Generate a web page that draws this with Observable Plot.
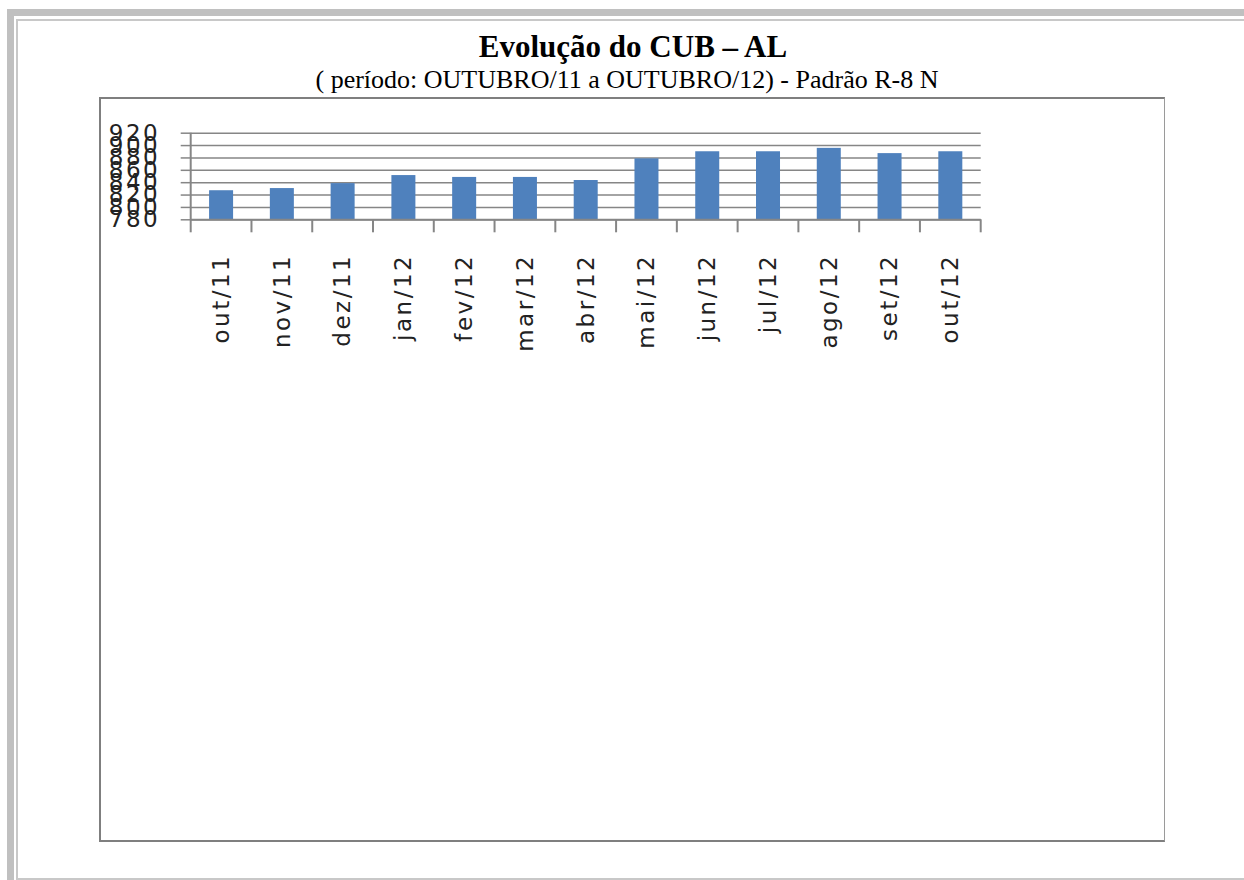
<!DOCTYPE html>
<html><head><meta charset="utf-8">
<script src="https://cdn.jsdelivr.net/npm/d3@7"></script>
<script src="https://cdn.jsdelivr.net/npm/@observablehq/plot@0.6"></script>
<style>
html,body{margin:0;padding:0;background:#fff;width:1244px;height:880px;overflow:hidden;position:relative}
.abs{position:absolute}
#title{position:absolute;left:99px;width:1068px;top:31px;text-align:center;font-family:"Liberation Serif","Times New Roman",serif;font-weight:bold;font-size:31px;line-height:31px;color:#000}
#subtitle{position:absolute;left:99px;width:1056px;top:67px;text-align:center;font-family:"Liberation Serif","Times New Roman",serif;font-size:26px;line-height:26px;color:#000}
#box{position:absolute;left:99px;top:97px;width:1066px;height:745px;border-left:2.5px solid #7f7f7f;border-top:2.5px solid #7f7f7f;border-bottom:2px solid #7f7f7f;border-right:1.5px solid #9a9a9a;box-sizing:border-box}
#chart{position:absolute;left:0;top:0}
#chart svg{overflow:visible;background:transparent}
#chart svg text{letter-spacing:2.5px}
</style></head><body>
<div class="abs" style="left:7px;top:9px;right:0;height:7px;background:#c0c0c0"></div>
<div class="abs" style="left:7px;top:9px;bottom:0;width:7px;background:#c0c0c0"></div>
<div class="abs" style="left:16px;top:19px;right:0;height:1.5px;background:#c8c8c8"></div>
<div class="abs" style="left:16px;top:19px;bottom:0;width:1.5px;background:#c8c8c8"></div>
<div class="abs" style="left:16px;top:878px;right:0;height:1.5px;background:#c8c8c8"></div>
<div id="box"></div>
<div id="title">Evolução do CUB – AL</div>
<div id="subtitle">( período: OUTUBRO/11 a OUTUBRO/12) - Padrão R-8 N</div>
<div id="chart"></div>
<script>
const months = ["out/11","nov/11","dez/11","jan/12","fev/12","mar/12","abr/12","mai/12","jun/12","jul/12","ago/12","set/12","out/12"];
const cub = [827, 830.5, 838.5, 851.5, 848.5, 848.5, 843.5, 878.5, 890, 890, 895.5, 887, 890];
const yTicks = [780, 800, 820, 840, 860, 880, 900, 920];
const yDomain = [780, 920];

const data = months.map((m, i) => ({month: m, value: cub[i]}));

const W = 1244, H = 400;
const ML = 190.7, MR = 263.3, MT = 132.7, MB = 180.7;
const GRID = "#868686";

function separators(index, scales, values, dimensions) {
  const {width, height, marginLeft, marginRight, marginTop, marginBottom} = dimensions;
  const n = months.length;
  const step = (width - marginLeft - marginRight) / n;
  const yf = typeof scales.y === "function" ? scales.y : null;
  const y0 = yf ? yf(yDomain[0]) : height - marginBottom;
  const yTop = yf ? yf(yDomain[1]) : marginTop;
  const g = d3.create("svg:g").attr("stroke", GRID).attr("stroke-width", 2).attr("fill", "none");
  for (let i = 0; i <= n; i++) {
    const x = marginLeft + i * step;
    g.append("line").attr("x1", x).attr("x2", x)
      .attr("y1", i === 0 ? yTop : y0).attr("y2", y0 + 13);
  }
  return g.node();
}

const chart = Plot.plot({
  width: W, height: H,
  marginLeft: ML, marginRight: MR, marginTop: MT, marginBottom: MB,
  style: {fontFamily: "'DejaVu Sans', sans-serif", color: "#222", background: "transparent"},
  x: {domain: months, paddingInner: 0.605, paddingOuter: 0.3025, round: false, label: null},
  y: {domain: yDomain, label: null},
  marks: [
    Plot.ruleY(yTicks, {y: d => d, stroke: GRID, strokeWidth: 1.5}),
    Plot.barY(data, {x: "month", y1: yDomain[0], y2: "value", fill: "#4f81bd"}),
    Plot.ruleY([yDomain[0]], {stroke: GRID, strokeWidth: 2}),
    separators,
    Plot.axisY({ticks: yTicks, tickSize: 10, tickPadding: 21, fontSize: 23, tickFormat: d => String(d), stroke: GRID, strokeWidth: 1.5, strokeOpacity: 1, label: null}),
    Plot.axisX({tickSize: 0, tickPadding: 34, tickRotate: -90, fontSize: 23, label: null})
  ]
});
document.getElementById("chart").appendChild(chart);
</script>
</body></html>
